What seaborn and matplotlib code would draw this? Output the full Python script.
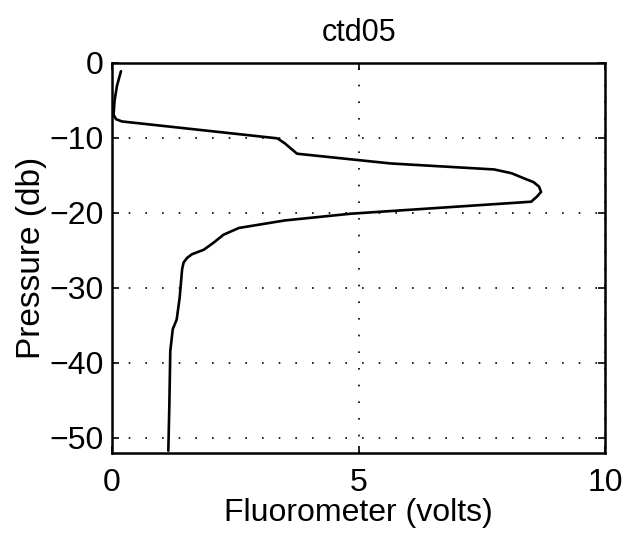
import matplotlib
matplotlib.use("Agg")
import matplotlib.pyplot as plt
import seaborn as sns
import pandas as pd

fluor = [0.18, 0.10, 0.05, 0.03, 0.08, 0.20, 3.35, 3.50, 3.75, 5.65, 7.75, 8.10, 8.36, 8.55,
         8.66, 8.70, 8.62, 8.50, 4.84, 3.50, 2.57, 2.26, 2.05, 1.86, 1.62, 1.52, 1.45, 1.42,
         1.37, 1.31, 1.23, 1.18, 1.16, 1.14]
pressure = [-1.1, -3.0, -5.0, -6.9, -7.5, -7.8, -10.05, -10.7, -12.1, -13.4, -14.2, -14.7,
            -15.4, -15.9, -16.5, -17.2, -17.8, -18.5, -20.1, -21.0, -22.0, -22.9, -24.0,
            -24.9, -25.5, -26.0, -26.6, -27.5, -31.3, -34.2, -35.5, -38.4, -45.9, -51.7]
xticks = [0, 5, 10]
yticks = [0, -10, -20, -30, -40, -50]

sns.set_theme(style="white")
plt.rcParams['font.family'] = ['Liberation Sans', 'DejaVu Sans']
plt.rcParams['axes.unicode_minus'] = True

df = pd.DataFrame({"x": fluor, "y": pressure})
fig = plt.figure(figsize=(6.37, 5.38), dpi=100)
ax = fig.add_axes([0.176, 0.158, 0.774, 0.725])
sns.lineplot(data=df, x="x", y="y", sort=False, estimator=None, color="black", linewidth=1.9, ax=ax)
ax.set_xlim(0, 10)
ax.set_ylim(-52, 0)
ax.set_xticks(xticks)
ax.set_yticks(yticks)
ax.set_xticklabels([str(t) for t in xticks])
ax.set_yticklabels([f"\u2212{abs(t)}" if t < 0 else str(t) for t in yticks])
ax.grid(True, color="black", linestyle=(0, (1, 9)), linewidth=1.2)
for s in ax.spines.values():
    s.set_color("black")
    s.set_linewidth(1.8)
ax.tick_params(direction="in", length=5, width=1.2, colors="black", labelsize=23,
               top=True, right=True, bottom=True, left=True)
ax.tick_params(axis="x", pad=11)
ax.tick_params(axis="y", pad=6)
ax.set_xlabel("Fluorometer (volts)", fontsize=23, color="black", labelpad=0)
ax.set_ylabel("Pressure (db)", fontsize=24, color="black", labelpad=2)
ax.set_title("ctd05", fontsize=22, color="black", pad=16)
fig.savefig("out.png", dpi=100)
